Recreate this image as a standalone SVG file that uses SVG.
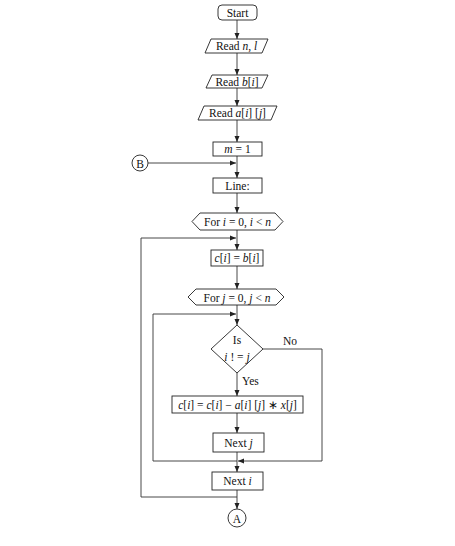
<svg xmlns="http://www.w3.org/2000/svg" width="455" height="546" viewBox="0 0 455 546">
<style>
.s{fill:#fff;stroke:#222;stroke-width:0.9}
.c{fill:none;stroke:#333;stroke-width:0.9}
text{font-family:"Liberation Serif","Times New Roman",serif;font-size:11.5px;fill:#111;text-anchor:middle;dominant-baseline:central}
.i{font-style:italic}
.l{text-anchor:start}
</style>
<defs>
<marker id="a" markerUnits="userSpaceOnUse" markerWidth="6" markerHeight="6" refX="6" refY="3" orient="auto">
<path d="M0,0.5 L6,3 L0,5.5 z" fill="#222"/>
</marker>
</defs>
<rect width="455" height="546" fill="#fff"/>
<g id="connectors">
<path class="c" d="M237,20 V39" marker-end="url(#a)"/>
<path class="c" d="M237,53 V75" marker-end="url(#a)"/>
<path class="c" d="M237,88 V106" marker-end="url(#a)"/>
<path class="c" d="M237,120 V142" marker-end="url(#a)"/>
<path class="c" d="M237,156 V178" marker-end="url(#a)"/>
<path class="c" d="M148,163 H236" marker-end="url(#a)"/>
<path class="c" d="M237,193 V213" marker-end="url(#a)"/>
<path class="c" d="M237,230 V250" marker-end="url(#a)"/>
<path class="c" d="M237,266 V289" marker-end="url(#a)"/>
<path class="c" d="M237,305 V325" marker-end="url(#a)"/>
<path class="c" d="M237,373 V396" marker-end="url(#a)"/>
<path class="c" d="M237,413 V433" marker-end="url(#a)"/>
<path class="c" d="M237,452 V472" marker-end="url(#a)"/>
<path class="c" d="M237,490 V509" marker-end="url(#a)"/>
<path class="c" d="M237,497 H141 V238 H236" marker-end="url(#a)"/>
<path class="c" d="M237,461 H153 V314 H236" marker-end="url(#a)"/>
<path class="c" d="M263,349 H322 V461 H238" marker-end="url(#a)"/>
<text class="l" x="283" y="341">No</text>
<text class="l" x="242" y="381">Yes</text>
</g>
<g id="start"><rect class="s" x="218" y="5" width="39" height="15" rx="4"/><text x="237.5" y="12.5">Start</text></g>
<g id="readnl"><path class="s" d="M211,39 H268 L262,53 H205 z"/><text x="236.5" y="46">Read <tspan class="i">n</tspan>, <tspan class="i">l</tspan></text></g>
<g id="readb"><path class="s" d="M212,75 H268 L262,88 H206 z"/><text x="237" y="81.5">Read <tspan class="i">b</tspan>[<tspan class="i">i</tspan>]</text></g>
<g id="reada"><path class="s" d="M204,106 H277 L271,120 H198 z"/><text x="237.5" y="113">Read <tspan class="i">a</tspan>[<tspan class="i">i</tspan>] [<tspan class="i">j</tspan>]</text></g>
<g id="m1"><rect class="s" x="213" y="142" width="49" height="14"/><text x="237.5" y="149"><tspan class="i">m</tspan> = 1</text></g>
<g id="B"><circle class="s" cx="140" cy="163" r="8"/><text x="140" y="163.5">B</text></g>
<g id="line"><rect class="s" x="213" y="178" width="49" height="15"/><text x="237.5" y="185.5">Line:</text></g>
<g id="fori"><path class="s" d="M200,213 H275 L283,221.5 L275,230 H200 L192,221.5 z"/><text x="237.5" y="222">For <tspan class="i">i</tspan> = 0, <tspan class="i">i</tspan> &lt; <tspan class="i">n</tspan></text></g>
<g id="cb"><rect class="s" x="211" y="250" width="52" height="16"/><text x="237" y="258"><tspan class="i">c</tspan>[<tspan class="i">i</tspan>] = <tspan class="i">b</tspan>[<tspan class="i">i</tspan>]</text></g>
<g id="forj"><path class="s" d="M196,289 H276 L284,297 L276,305 H196 L188,297 z"/><text x="237" y="297.5">For <tspan class="i">j</tspan> = 0, <tspan class="i">j</tspan> &lt; <tspan class="i">n</tspan></text></g>
<g id="dec"><path class="s" d="M237,325 L263,349 L237,373 L211,349 z"/><text x="237" y="340">Is</text><text x="237" y="357"><tspan class="i">i</tspan> ! = <tspan class="i">j</tspan></text></g>
<g id="calc"><rect class="s" x="172" y="396" width="131" height="17"/><text x="237.5" y="404.5"><tspan class="i">c</tspan>[<tspan class="i">i</tspan>] = <tspan class="i">c</tspan>[<tspan class="i">i</tspan>] − <tspan class="i">a</tspan>[<tspan class="i">i</tspan>] [<tspan class="i">j</tspan>] ∗ <tspan class="i">x</tspan>[<tspan class="i">j</tspan>]</text></g>
<g id="nextj"><rect class="s" x="213" y="433" width="51" height="19"/><text x="238.5" y="442.5">Next <tspan class="i">j</tspan></text></g>
<g id="nexti"><rect class="s" x="212" y="472" width="51" height="18"/><text x="237.5" y="481">Next <tspan class="i">i</tspan></text></g>
<g id="A"><circle class="s" cx="237" cy="518" r="9"/><text x="237" y="518.5">A</text></g>
</svg>
